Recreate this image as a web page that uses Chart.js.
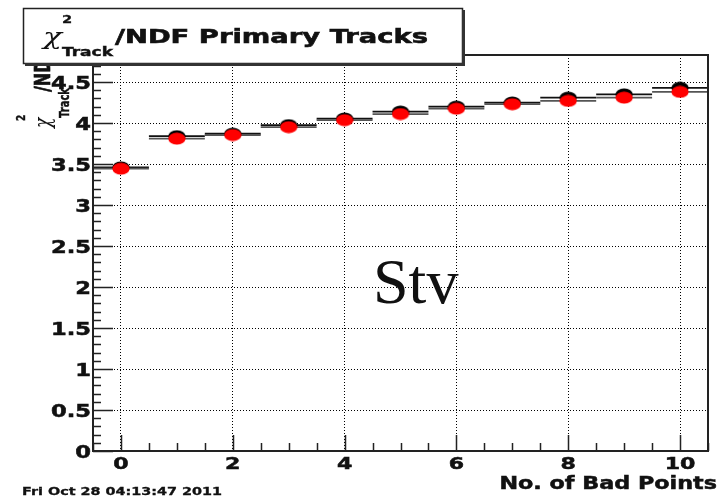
<!DOCTYPE html>
<html>
<head>
<meta charset="utf-8">
<script src="https://cdn.jsdelivr.net/npm/chart.js@4.4.0/dist/chart.umd.min.js"></script>
<style>
  html, body { margin: 0; padding: 0; background: #fff; }
  #wrap { width: 725px; height: 497px; }
</style>
</head>
<body>
<div id="wrap"><canvas id="chi2Chart" width="725" height="497"></canvas></div>
<script>
// --- data ---
const badPoints = [0, 1, 2, 3, 4, 5, 6, 7, 8, 9, 10];
const blackVals = [3.46, 3.84, 3.87, 3.975, 4.055, 4.14, 4.20, 4.25, 4.31, 4.35, 4.43];
const redVals   = [3.443, 3.81, 3.854, 3.95, 4.035, 4.11, 4.175, 4.23, 4.27, 4.31, 4.38];
const xTickVals = [0, 2, 4, 6, 8, 10];
const xTickLabels = ['0', '2', '4', '6', '8', '10'];
const yTickVals = [0, 0.5, 1, 1.5, 2, 2.5, 3, 3.5, 4, 4.5];
const yTickLabels = ['0', '0.5', '1', '1.5', '2', '2.5', '3', '3.5', '4', '4.5'];
const binHalfWidth = 0.5;

const SX = 1.33; // the picture is stretched sideways
const BOLD = '"DejaVu Sans", sans-serif';

function ellipseMarker(color) {
    const c = document.createElement('canvas');
    c.width = 18; c.height = 13;
    const g = c.getContext('2d');
    g.fillStyle = color;
    g.beginPath();
    g.ellipse(9, 6.5, 8.6, 6, 0, 0, Math.PI * 2);
    g.fill();
    return c;
}

function stretchText(ctx, txt, x, y, font, sx, align, heavy) {
    ctx.save();
    ctx.font = font;
    ctx.textAlign = 'left';
    ctx.textBaseline = 'alphabetic';
    const w = ctx.measureText(txt).width * sx;
    let x0 = x;
    if (align === 'right') x0 = x - w;
    if (align === 'center') x0 = x - w / 2;
    ctx.translate(x0, y);
    ctx.scale(sx, 1);
    ctx.fillText(txt, 0, 0);
    if (heavy) {
        ctx.lineWidth = heavy;
        ctx.strokeStyle = ctx.fillStyle;
        ctx.strokeText(txt, 0, 0);
    }
    ctx.restore();
    return w;
}

function fitText(ctx, txt, x, y, font, width, heavy) {
    ctx.save();
    ctx.font = font;
    const sx = width / ctx.measureText(txt).width;
    ctx.restore();
    stretchText(ctx, txt, x, y, font, sx, 'left', heavy);
}

// rotated text, reading bottom to top, starting at screen (x, y)
function upText(ctx, txt, x, y, font, sy, heavy) {
    ctx.save();
    ctx.font = font;
    ctx.textAlign = 'left';
    ctx.textBaseline = 'alphabetic';
    ctx.translate(x, y);
    ctx.rotate(-Math.PI / 2);
    ctx.scale(1, sy);
    ctx.fillText(txt, 0, 0);
    if (heavy) {
        ctx.lineWidth = heavy;
        ctx.strokeStyle = ctx.fillStyle;
        ctx.strokeText(txt, 0, 0);
    }
    ctx.restore();
}

const rootPlugin = {
    id: 'rootLook',
    beforeDraw(chart) {
        const ctx = chart.ctx;
        ctx.save();
        ctx.fillStyle = '#fff';
        ctx.fillRect(0, 0, chart.width, chart.height);
        ctx.restore();
    },
    beforeDatasetsDraw(chart) {
        // horizontal bin-width error bars
        const ctx = chart.ctx, xs = chart.scales.x, ys = chart.scales.y;
        const series = [[blackVals, '#111'], [redVals, '#555']];
        ctx.save();
        ctx.lineWidth = 1.8;
        series.forEach(([vals, col]) => {
            ctx.strokeStyle = col;
            badPoints.forEach((b, i) => {
                const py = ys.getPixelForValue(vals[i]);
                ctx.beginPath();
                ctx.moveTo(xs.getPixelForValue(b - binHalfWidth), py);
                ctx.lineTo(xs.getPixelForValue(b + binHalfWidth), py);
                ctx.stroke();
            });
        });
        ctx.restore();
    },
    afterDraw(chart) {
        const ctx = chart.ctx, xs = chart.scales.x, ys = chart.scales.y;
        const a = chart.chartArea;
        ctx.save();
        ctx.fillStyle = '#111';
        ctx.strokeStyle = '#222';

        // frame
        ctx.lineWidth = 2;
        ctx.strokeRect(a.left, a.top, a.right - a.left, a.bottom - a.top);

        // inward ticks
        ctx.lineWidth = 1.5;
        ctx.beginPath();
        for (let v = 0; v <= 4.8001; v += 0.1) {
            const py = Math.round(ys.getPixelForValue(v)) + 0.5;
            const major = Math.abs(v / 0.5 - Math.round(v / 0.5)) < 1e-6;
            ctx.moveTo(a.left, py);
            ctx.lineTo(a.left + (major ? 20 : 8), py);
        }
        for (let v = -0.5; v <= 10.5001; v += 0.5) {
            const px = Math.round(xs.getPixelForValue(v)) + 0.5;
            const major = Math.abs(v / 2 - Math.round(v / 2)) < 1e-6;
            ctx.moveTo(px, a.bottom);
            ctx.lineTo(px, a.bottom - (major ? 16 : 8));
        }
        ctx.stroke();

        // tick labels
        yTickVals.forEach((v, i) => {
            stretchText(ctx, yTickLabels[i], a.left - 2, ys.getPixelForValue(v) + 6.5, 'bold 17px ' + BOLD, SX, 'right', 0.5);
        });
        xTickVals.forEach((v, i) => {
            stretchText(ctx, xTickLabels[i], xs.getPixelForValue(v), 469, 'bold 16px ' + BOLD, SX + 0.05, 'center', 0.5);
        });

        // x axis title
        stretchText(ctx, 'No. of Bad Points', 717, 489, 'bold 17px ' + BOLD, 1.31, 'right', 0.5);

        // y axis title (rotated)
        upText(ctx, '\u03C7', 50, 128, 'italic 17px "DejaVu Serif", serif', 1.36);
        upText(ctx, '2', 25, 121, 'bold 9px ' + BOLD, 1.36, 0.3);
        upText(ctx, 'Track', 69, 118, 'bold 10px ' + BOLD, 1.4, 0.3);
        upText(ctx, '/NDF', 50, 92, 'bold 16px ' + BOLD, 1.36, 0.5);

        // title box
        ctx.fillStyle = '#fff';
        ctx.fillRect(23, 8, 440, 56);
        ctx.lineWidth = 1.5;
        ctx.strokeRect(23.5, 8.5, 439, 55);
        ctx.fillStyle = '#333';
        ctx.fillRect(462, 10, 3, 56);
        ctx.fillRect(25, 63, 440, 3);
        ctx.fillStyle = '#111';
        fitText(ctx, '\u03C7', 43, 44, 'italic 22px "DejaVu Serif", serif', 19);
        stretchText(ctx, '2', 62, 23, 'bold 11px ' + BOLD, SX, 'left', 0.3);
        fitText(ctx, 'Track', 62, 56, 'bold 12px ' + BOLD, 51, 0.4);
        fitText(ctx, '/NDF Primary Tracks', 115, 43, 'bold 20px ' + BOLD, 313, 0.6);

        // date stamp
        fitText(ctx, 'Fri Oct 28 04:13:47 2011', 22, 495, 'bold 10px ' + BOLD, 200, 0.3);

        // label
        ctx.font = '64px "Liberation Serif", "Times New Roman", serif';
        ctx.textAlign = 'left';
        ctx.textBaseline = 'alphabetic';
        ctx.fillText('Stv', 373, 303);
        ctx.restore();
    }
};

const ctx = document.getElementById('chi2Chart').getContext('2d');
new Chart(ctx, {
    type: 'scatter',
    data: {
        datasets: [
            {
                label: 'red',
                data: badPoints.map((b, i) => ({ x: b, y: redVals[i] })),
                pointStyle: ellipseMarker('#ff0000'),
                pointRadius: 6,
                showLine: false
            },
            {
                label: 'black',
                data: badPoints.map((b, i) => ({ x: b, y: blackVals[i] })),
                pointStyle: ellipseMarker('#000000'),
                pointRadius: 6,
                showLine: false
            }
        ]
    },
    options: {
        responsive: false,
        animation: false,
        events: [],
        layout: { padding: { left: 0, right: 17, top: 55, bottom: 0 } },
        plugins: {
            legend: { display: false },
            tooltip: { enabled: false },
            title: { display: false }
        },
        scales: {
            x: {
                type: 'linear',
                min: -0.5,
                max: 10.5,
                afterBuildTicks: (s) => { s.ticks = xTickVals.map(v => ({ value: v })); },
                afterFit: (s) => { s.height = 46; },
                ticks: { display: false },
                grid: { color: '#000', lineWidth: 1, drawTicks: false },
                border: { display: false, dash: [1, 2] }
            },
            y: {
                type: 'linear',
                min: 0,
                max: 4.83,
                afterBuildTicks: (s) => { s.ticks = yTickVals.map(v => ({ value: v })); },
                afterFit: (s) => { s.width = 93; },
                ticks: { display: false },
                grid: { color: '#000', lineWidth: 1, drawTicks: false },
                border: { display: false, dash: [1, 2] }
            }
        }
    },
    plugins: [rootPlugin]
});
</script>
</body>
</html>
